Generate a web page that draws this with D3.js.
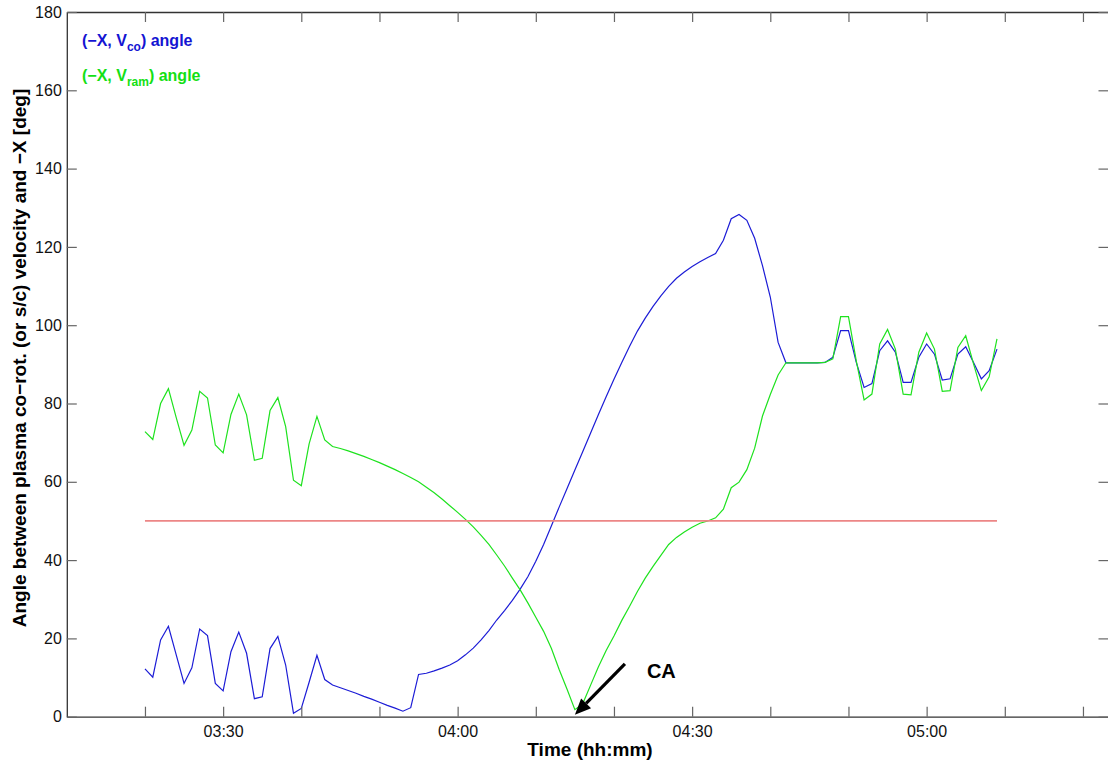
<!DOCTYPE html>
<html><head><meta charset="utf-8">
<script src="https://cdn.jsdelivr.net/npm/d3@7"></script>
<style>body{margin:0;background:#fff} svg{display:block}</style>
</head><body><svg id="c" width="1108" height="762"></svg>
<script>
// ---- data (1-minute samples starting at startTime) ----
const startTime = "03:20";
const blueValues = [
  12.2,10.1,19.6,23.1,15.8,8.5,12.5,22.4,20.7,8.5,
  6.6,16.6,21.6,16.2,4.6,5.1,17.4,20.5,13.2,0.9,
  2.1,8.8,15.7,9.5,8.1,7.4,6.7,6.0,5.2,4.5,
  3.7,2.9,2.2,1.4,2.3,10.8,11.1,11.7,12.4,13.2,
  14.3,15.8,17.5,19.6,22.0,24.7,27.1,29.7,32.6,35.8,
  39.7,44.0,48.8,53.6,58.3,63.0,67.7,72.4,77.1,81.7,
  86.2,90.5,94.6,98.5,101.8,104.8,107.5,109.9,112.0,113.6,
  115.0,116.2,117.3,118.3,121.7,127.2,128.3,126.8,122.2,115.2,
  107.2,95.6,90.4,90.4,90.4,90.4,90.4,90.5,91.8,98.6,
  98.6,90.5,84.1,85.1,93.5,96.0,93.1,85.4,85.4,91.8,
  95.2,92.6,86.0,86.3,92.6,94.5,90.5,86.3,88.4,93.9
];
const greenValues = [
  72.8,70.8,80.0,83.8,76.4,69.3,73.2,83.1,81.4,69.4,
  67.4,77.2,82.4,77.1,65.5,66.0,78.2,81.5,74.1,60.4,
  59.0,69.7,76.7,70.7,69.0,68.5,67.9,67.2,66.5,65.7,
  64.9,64.0,63.1,62.1,61.1,60.0,58.6,57.2,55.6,53.9,
  52.2,50.4,48.5,46.3,44.0,41.3,38.5,35.4,32.4,29.0,
  25.4,21.8,17.4,12.0,7.0,1.8,3.3,8.0,12.7,16.9,
  20.6,24.6,28.2,32.0,35.4,38.4,41.2,44.0,45.8,47.2,
  48.4,49.4,50.0,50.8,53.0,58.5,59.9,63.1,68.6,76.8,
  82.3,87.3,90.4,90.4,90.4,90.4,90.4,90.5,91.4,102.2,
  102.2,90.9,80.9,82.4,95.2,98.9,93.9,82.4,82.2,93.1,
  98.0,93.9,83.1,83.3,94.3,97.3,90.1,83.3,86.8,96.5
];
const thresholdValue = 50;
const thresholdTimes = ["03:20", "05:09"];

// ---- axes ----
const xDomainTimes = ["03:10:00", "05:23:16"];
const xTickTimes = ["03:20","03:30","03:40","03:50","04:00","04:10","04:20","04:30","04:40","04:50","05:00","05:10","05:20"];
const xTickLabels = ["","03:30","","","04:00","","","04:30","","","05:00","",""];
const yDomain = [0, 180];
const yTickValues = [0,20,40,60,80,100,120,140,160,180];
const xTitle = "Time (hh:mm)";
const yTitle = "Angle between plasma co\u2212rot. (or s/c) velocity and \u2212X [deg]";

// ---- legend / annotation ----
const legendItems = [
  {pre: "(\u2212X, V", sub: "co", post: ") angle", color: "#1414d2"},
  {pre: "(\u2212X, V", sub: "ram", post: ") angle", color: "#14e014"}
];
const caArrowFrom = ["04:21:24", 13.5];
const caArrowTo = ["04:15:00", 0.5];
const caLabel = {text: "CA", at: ["04:24:13", 10]};

// ---- drawing ----
const plot = {left: 66.8, right: 1108.5, top: 12, bottom: 716.7};
const parse = s => d3.timeParse(s.length > 5 ? "%H:%M:%S" : "%H:%M")(s);
const t0 = parse(startTime);
const tAt = i => new Date(t0.getTime() + i * 60000);

const x = d3.scaleTime().domain(xDomainTimes.map(parse)).range([plot.left, plot.right]);
const y = d3.scaleLinear().domain(yDomain).range([plot.bottom, plot.top]);

const svg = d3.select("#c");
const font = "'Liberation Sans', Arial, Helvetica, sans-serif";

const line = d3.line().x(d => x(d.t)).y(d => y(d.v));
const blue = blueValues.map((v, i) => ({t: tAt(i), v}));
const green = greenValues.map((v, i) => ({t: tAt(i), v}));
const red = thresholdTimes.map(s => ({t: parse(s), v: thresholdValue}));

svg.append("path").datum(blue).attr("d", line)
  .attr("fill", "none").attr("stroke", "#1c1cd6").attr("stroke-width", 1.2);
svg.append("path").datum(green).attr("d", line)
  .attr("fill", "none").attr("stroke", "#1ee21e").attr("stroke-width", 1.2);
svg.append("path").datum(red).attr("d", line)
  .attr("fill", "none").attr("stroke", "#ec8686").attr("stroke-width", 1.8);

// axes
const tickVals = xTickTimes.map(parse);
const styleAxis = g => {
  g.select(".domain").attr("stroke", "#333").attr("stroke-width", 1.3);
  g.selectAll(".tick line").attr("stroke", "#666").attr("stroke-width", 1.2);
  g.selectAll("text").attr("font-family", font).attr("font-size", 16).attr("fill", "#111");
};
svg.append("g").attr("transform", `translate(0,${plot.bottom})`)
  .call(d3.axisBottom(x).tickValues(tickVals).tickSizeInner(-10).tickSizeOuter(0).tickPadding(9)
    .tickFormat((d, i) => xTickLabels[i])).call(styleAxis);
svg.append("g").attr("transform", `translate(0,${plot.top})`)
  .call(d3.axisTop(x).tickValues(tickVals).tickSizeInner(-10).tickSizeOuter(0).tickFormat("")).call(styleAxis);
svg.append("g").attr("transform", `translate(${plot.left},0)`)
  .call(d3.axisLeft(y).tickValues(yTickValues).tickSizeInner(-10).tickSizeOuter(0).tickPadding(5)).call(styleAxis);
svg.append("g").attr("transform", `translate(${plot.right},0)`)
  .call(d3.axisRight(y).tickValues(yTickValues).tickSizeInner(-10).tickSizeOuter(0).tickFormat("")).call(styleAxis);

// titles
svg.append("text").attr("x", 590).attr("y", 756).attr("text-anchor", "middle")
  .attr("font-family", font).attr("font-weight", "bold").attr("font-size", 19).attr("fill", "#000")
  .text(xTitle);
svg.append("text").attr("transform", "translate(26,358) rotate(-90)").attr("text-anchor", "middle")
  .attr("font-family", font).attr("font-weight", "bold").attr("font-size", 19).attr("fill", "#000")
  .text(yTitle);

// legend
legendItems.forEach((it, k) => {
  const t = svg.append("text").attr("x", 82).attr("y", 46 + k * 35)
    .attr("font-family", font).attr("font-weight", "bold").attr("font-size", 16).attr("fill", it.color);
  t.append("tspan").text(it.pre);
  t.append("tspan").attr("dy", 5).attr("font-size", 12).text(it.sub);
  t.append("tspan").attr("dy", -5).text(it.post);
});

// CA arrow
const ax0 = x(parse(caArrowFrom[0])), ay0 = y(caArrowFrom[1]);
const ax1 = x(parse(caArrowTo[0])), ay1 = y(caArrowTo[1]);
const ang = Math.atan2(ay1 - ay0, ax1 - ax0);
const headL = 16, headW = 7;
const bx = ax1 - headL * Math.cos(ang), by = ay1 - headL * Math.sin(ang);
svg.append("line").attr("x1", ax0).attr("y1", ay0).attr("x2", bx).attr("y2", by)
  .attr("stroke", "#000").attr("stroke-width", 3.2);
svg.append("path")
  .attr("d", `M${ax1},${ay1}L${bx + headW * Math.sin(ang)},${by - headW * Math.cos(ang)}L${bx - headW * Math.sin(ang)},${by + headW * Math.cos(ang)}Z`)
  .attr("fill", "#000");
svg.append("text").attr("x", x(parse(caLabel.at[0]))).attr("y", y(caLabel.at[1]))
  .attr("font-family", font).attr("font-weight", "bold").attr("font-size", 20).attr("fill", "#000")
  .text(caLabel.text);
</script></body></html>
